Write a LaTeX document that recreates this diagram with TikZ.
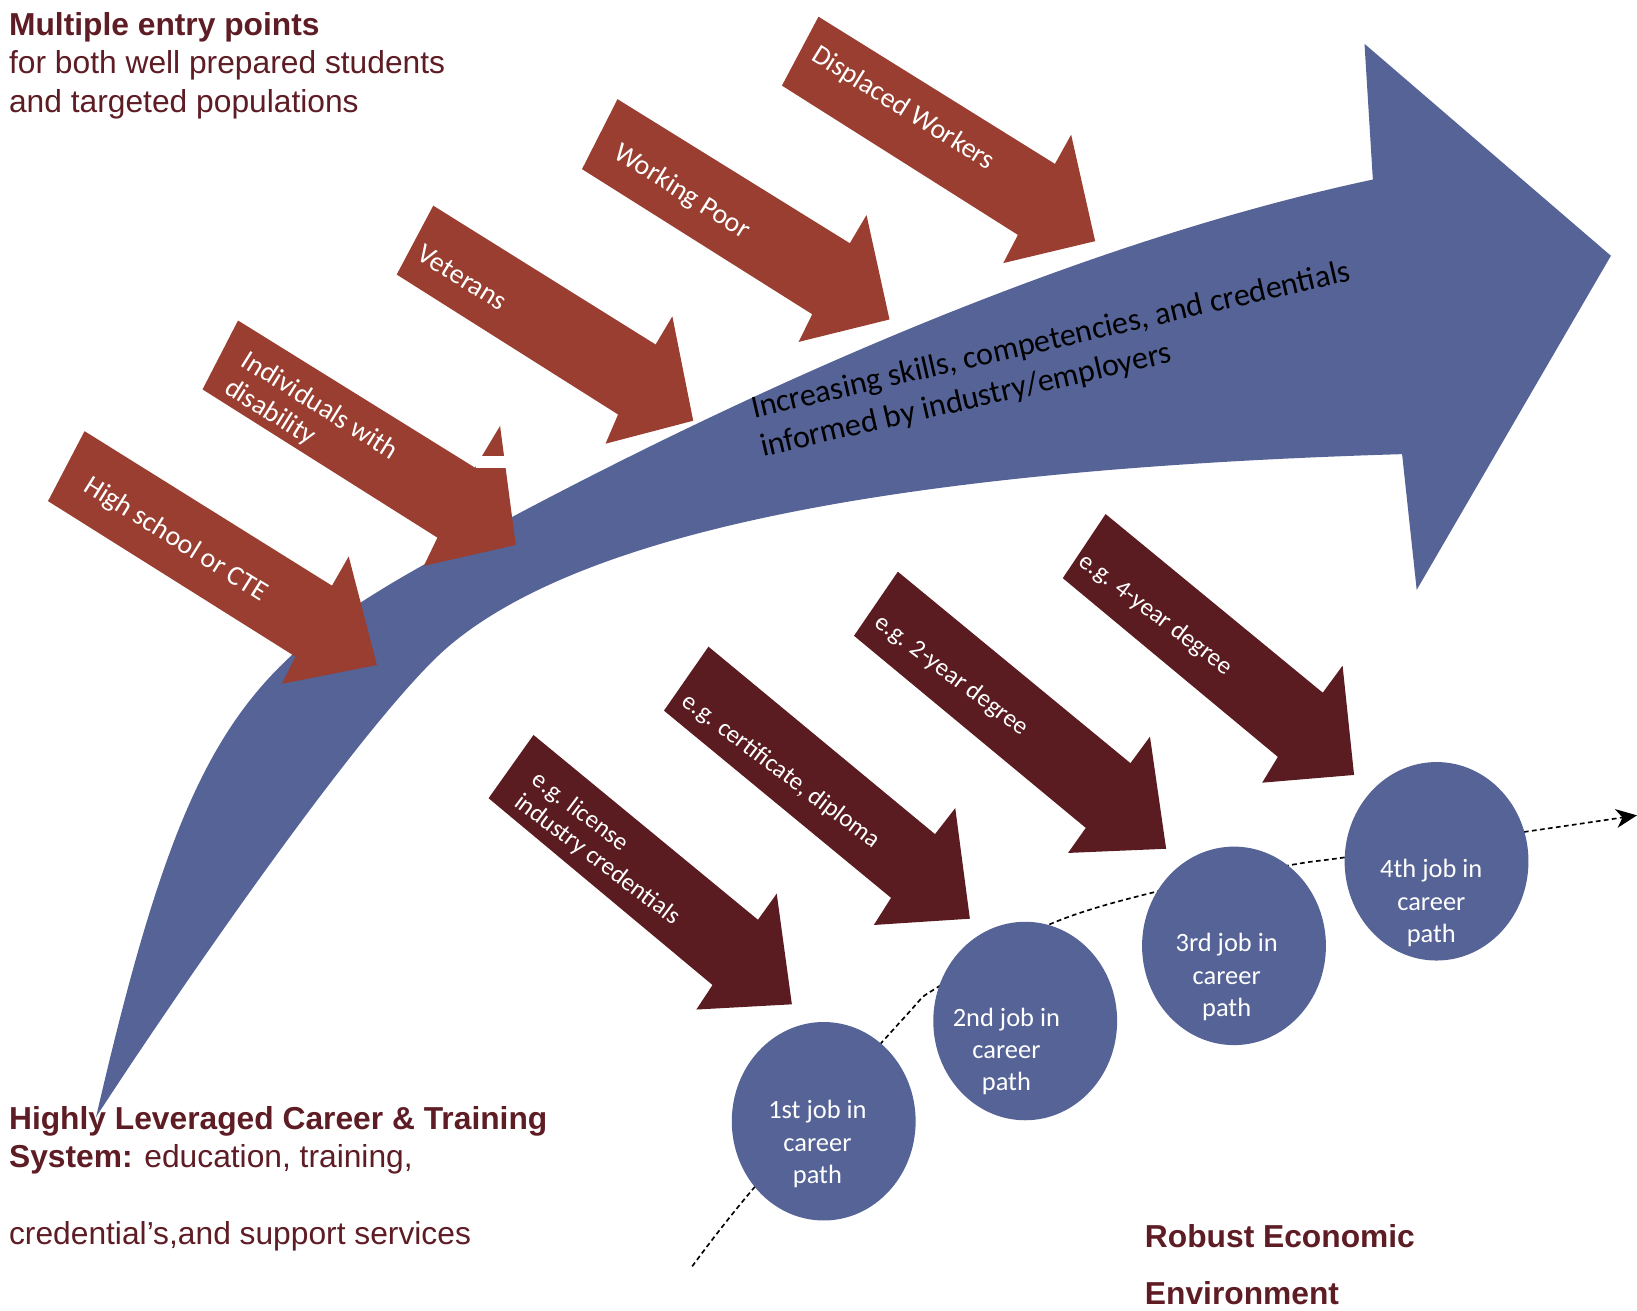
\documentclass[tikz,border=0pt]{standalone}
\usepackage{fontspec}
\setmainfont{Liberation Sans}
\newfontfamily\calfont{Carlito}
\usetikzlibrary{shapes.geometric,arrows.meta}
\definecolor{entryred}{RGB}{153,62,48}
\definecolor{credred}{RGB}{90,28,33}
\definecolor{pathblue}{RGB}{85,99,150}
\definecolor{maroontext}{RGB}{94,28,36}

\begin{document}
\begin{tikzpicture}[x=0.01cm, y=-0.01cm,
  entry/.style={fill=entryred},
  cred/.style={fill=credred},
  entrylabel/.style={text=white, font=\calfont\fontsize{7.6}{8.6}\selectfont, rotate=-32, align=left, inner sep=0pt},
  credlabel/.style={text=white, font=\calfont\fontsize{6.8}{7.6}\selectfont, rotate=-37, align=left, inner sep=0pt},
  jobnode/.style={ellipse, fill=pathblue, minimum width=1.76cm, minimum height=1.9cm, inner sep=0pt},
  joblabel/.style={text=white, font=\calfont\fontsize{7.2}{8.8}\selectfont, align=center, inner sep=0pt},
  heading/.style={text=maroontext, font=\fontsize{8.65}{10.5}\selectfont, align=left, inner sep=0pt, anchor=north west}]
  \useasboundingbox (0,0) rectangle (1568,1255);

  % Draw the big curved arrow
  \fill[pathblue] (92,1070) .. controls (186.5,661) and (242,627) .. (489,496)
    .. controls (709.8,378.8) and (1021.6,234.4) .. (1315,172)
    -- (1307,42) -- (1543,245) -- (1357,565) -- (1343,435)
    .. controls (893,448.5) and (568.9,502.3) .. (431,618)
    .. controls (354.4,682.3) and (173.8,944.2) .. (92,1070)
    -- cycle;
  \node[rotate=13, font=\calfont\fontsize{8.75}{10.75}\selectfont, align=left, inner sep=0pt] (skills) at (1011,345) {Increasing skills, competencies, and credentials\\informed by industry/employers};

  % Draw the entry point arrows
  \fill[entry] (81,413) -- (318,561) -- (334,533) -- (361,637) -- (270,655) -- (283,629) -- (46,480) -- cycle;
  \fill[entry] (228,307) -- (455,448) -- (479,408) -- (494,522) -- (406,542) -- (419,515) -- (194,373) -- cycle;
  \fill[white] (456,437) rectangle (505,448.5);
  \fill[entry] (415,197) -- (628,330) -- (644,303) -- (664,403) -- (580,425) -- (592,397) -- (380,263) -- cycle;
  \fill[entry] (591.5,95) -- (814,233) -- (830,206) -- (852,306) -- (765,327.5) -- (778,301) -- (557.5,162) -- cycle;
  \fill[entry] (784,16) -- (1010.5,157) -- (1026,129) -- (1049,231) -- (961,252) -- (975,225) -- (749,82) -- cycle;
  \node[entrylabel] (hs) at (168,517) {High school or CTE};
  \node[entrylabel] (dis) at (298,402) {Individuals with\\disability};
  \node[entrylabel] (vet) at (443,266) {Veterans};
  \node[entrylabel] (wp) at (653,184) {Working Poor};
  \node[entrylabel] (dw) at (865,104) {Displaced Workers};

  % Draw the credential arrows
  \fill[cred] (511,704) -- (726,881) -- (744,856) -- (758.5,962) -- (667,967) -- (682.5,943.5) -- (468,764.6) -- cycle;
  \fill[cred] (678.6,619.4) -- (895.6,799) -- (915,774) -- (929,880) -- (837,886) -- (853.5,860) -- (636,680.7) -- cycle;
  \fill[cred] (860,547.6) -- (1082.8,731) -- (1101.5,705.6) -- (1117,813) -- (1023,817) -- (1040,793) -- (818,609) -- cycle;
  \fill[cred] (1059,492.4) -- (1267,663.5) -- (1286,637.6) -- (1297,742.3) -- (1209,749.7) -- (1224,725) -- (1018,553.8) -- cycle;
  \node[credlabel] (lic) at (580,813) {e.g. license\\industry credentials};
  \node[credlabel] (cert) at (748,739) {e.g. certificate, diploma};
  \node[credlabel] (twoyr) at (911,647) {e.g. 2-year degree};
  \node[credlabel] (fouryr) at (1107,589) {e.g. 4-year degree};

  % Draw the career path line and the jobs on it
  \draw[line width=0.45pt, dash pattern=on 1.3pt off 0.9pt, -{Stealth[length=2mm, width=1.8mm, inset=0.6mm]}]
    plot[smooth, tension=0.55] coordinates {(663,1213) (722,1138) (864,977) (899,945) (1004,886) (1108,854) (1234,829) (1290,821) (1459,797) (1568,781)};
  \node[jobnode] (job1) at (789,1074) {};
  \node[jobnode] (job2) at (982,978) {};
  \node[jobnode] (job3) at (1182,906) {};
  \node[jobnode] (job4) at (1376,825) {};
  \node[joblabel] (jt1) at (783,1096) {1st job in\\career\\path};
  \node[joblabel] (jt2) at (964,1007) {2nd job in\\career\\path};
  \node[joblabel] (jt3) at (1175,936) {3rd job in\\career\\path};
  \node[joblabel] (jt4) at (1371,865) {4th job in\\career\\path};

  % Add the text blocks
  \node[heading] (entrytext) at (8,11) {\textbf{Multiple entry points}\\for both well prepared students\\and targeted populations};
  \node[heading] (system) at (8,1059) {\textbf{Highly Leveraged Career \& Training}\\\textbf{System:} education, training,\\[10.5pt]credential’s,and support services};
  \node[heading, font=\bfseries\fontsize{8.65}{15.6}\selectfont] (robust) at (1096,1172) {Robust Economic\\Environment};
\end{tikzpicture}
\end{document}
